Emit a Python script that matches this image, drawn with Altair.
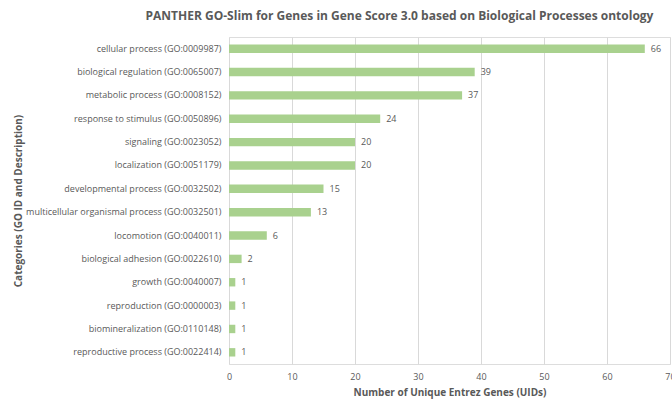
import altair as alt
import pandas as pd

categories = [
    "cellular process (GO:0009987)",
    "biological regulation (GO:0065007)",
    "metabolic process (GO:0008152)",
    "response to stimulus (GO:0050896)",
    "signaling (GO:0023052)",
    "localization (GO:0051179)",
    "developmental process (GO:0032502)",
    "multicellular organismal process (GO:0032501)",
    "locomotion (GO:0040011)",
    "biological adhesion (GO:0022610)",
    "growth (GO:0040007)",
    "reproduction (GO:0000003)",
    "biomineralization (GO:0110148)",
    "reproductive process (GO:0022414)",
]
values = [66, 39, 37, 24, 20, 20, 15, 13, 6, 2, 1, 1, 1, 1]
x_ticks = [0, 10, 20, 30, 40, 50, 60, 70]

df = pd.DataFrame({"category": categories, "value": values})

FONT = "Open Sans"
GRAY = "#595959"

y_enc = alt.Y(
    "category:N",
    sort=categories,
    title="Categories (GO ID and Description)",
    scale=alt.Scale(paddingInner=0.64, paddingOuter=0.32),
    axis=alt.Axis(
        labelLimit=400,
        labelFontSize=9,
        labelColor=GRAY,
        labelFont=FONT,
        labelPadding=8,
        ticks=False,
        domain=False,
        titleFont=FONT,
        titleFontSize=10,
        titleColor=GRAY,
        titleFontWeight="bold",
        titleX=-206,
    ),
)
x_enc = alt.X(
    "value:Q",
    title="Number of Unique Entrez Genes (UIDs)",
    scale=alt.Scale(domain=[0, 70], nice=False),
    axis=alt.Axis(
        values=x_ticks,
        grid=True,
        gridColor="#d9d9d9",
        ticks=False,
        domain=False,
        labelFontSize=9,
        labelColor=GRAY,
        labelFont=FONT,
        labelPadding=8,
        labelFlush=False,
        titleFont=FONT,
        titleFontSize=10,
        titleColor=GRAY,
        titleFontWeight="bold",
        titlePadding=6,
    ),
)

bars = alt.Chart(df).mark_bar(color="#a9d18e").encode(x=x_enc, y=y_enc)
labels = alt.Chart(df).mark_text(
    align="left", dx=6, fontSize=9, color=GRAY, font=FONT
).encode(x="value:Q", y=alt.Y("category:N", sort=categories), text="value:Q")

chart = (
    (bars + labels)
    .properties(
        width=441,
        height=327,
        autosize=alt.AutoSizeParams(type="none"),
        padding={"left": 229, "top": 37, "right": 2, "bottom": 35},
        title=alt.TitleParams(
            "PANTHER GO-Slim for Genes in Gene Score 3.0 based on Biological Processes ontology",
            font=FONT,
            fontSize=12,
            fontWeight="bold",
            color=GRAY,
            anchor="middle",
            dx=-50,
            offset=14,
        ),
    )
    .configure_view(stroke=None)
    .configure(background="white")
)

chart.save("out.html", embed_options={"renderer": "svg", "actions": False})
